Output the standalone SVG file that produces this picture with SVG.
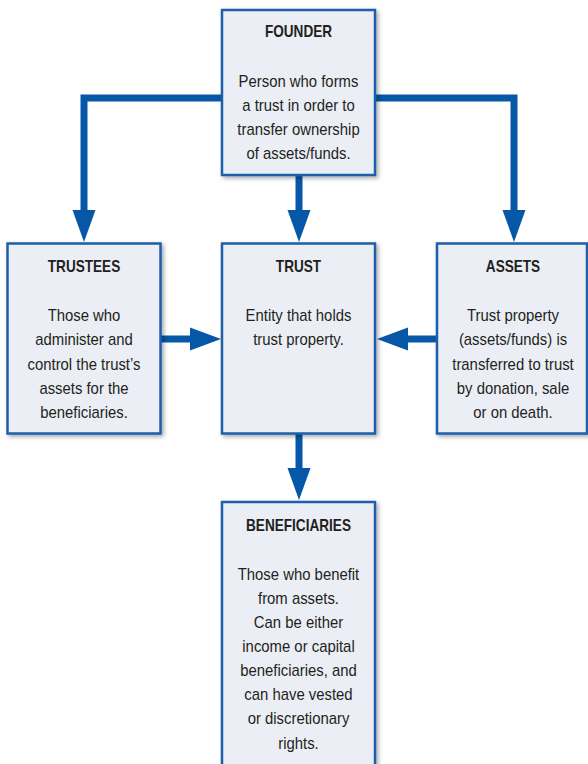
<svg xmlns="http://www.w3.org/2000/svg" width="588" height="764" viewBox="0 0 588 764">
  <defs>
    <filter id="shadow" x="-10%" y="-10%" width="125%" height="125%">
      <feDropShadow dx="2" dy="2" stdDeviation="2" flood-color="#000" flood-opacity="0.35"/>
    </filter>
    <style>
      .box { fill: #ebeef5; stroke: #1c5fab; stroke-width: 2.5; filter: url(#shadow); }
      .title { font-family: "Liberation Sans", Arial, sans-serif; font-weight: bold; font-size: 16px; fill: #231f20; text-anchor: middle; }
      .body { font-family: "Liberation Sans", Arial, sans-serif; font-size: 16px; fill: #231f20; text-anchor: middle; }
      .stem { fill: none; stroke: #0657a8; stroke-width: 7; }
      .head { fill: #0657a8; }
    </style>
  </defs>
  <rect width="588" height="764" fill="#ffffff"/>

  <g id="connectors">
    <polyline class="stem" points="222,98 84,98 84,212"/>
    <polygon class="head" points="72.5,210 95.5,210 84,242"/>
    <polyline class="stem" points="375,98 514,98 514,212"/>
    <polygon class="head" points="502.5,210 525.5,210 514,242"/>
    <line class="stem" x1="299" y1="175" x2="299" y2="212"/>
    <polygon class="head" points="287.5,210 310.5,210 299,242"/>
    <line class="stem" x1="160" y1="339" x2="192" y2="339"/>
    <polygon class="head" points="190,327.5 190,350.5 221,339"/>
    <line class="stem" x1="437" y1="339" x2="406" y2="339"/>
    <polygon class="head" points="408,327.5 408,350.5 377,339"/>
    <line class="stem" x1="299" y1="433" x2="299" y2="470"/>
    <polygon class="head" points="287.5,468 310.5,468 299,500"/>
  </g>

  <g id="founder">
    <rect class="box" x="222" y="10" width="153" height="165"/>
    <text class="title" transform="matrix(0.85 0 0 1 298.5 37)">FOUNDER</text>
    <text class="body" transform="matrix(0.93 0 0 1 298.5 87)">Person who forms</text>
    <text class="body" transform="matrix(0.93 0 0 1 298.5 111)">a trust in order to</text>
    <text class="body" transform="matrix(0.93 0 0 1 298.5 135)">transfer ownership</text>
    <text class="body" transform="matrix(0.93 0 0 1 298.5 159)">of assets/funds.</text>
  </g>

  <g id="trustees">
    <rect class="box" x="7.5" y="243.5" width="153" height="190"/>
    <text class="title" transform="matrix(0.85 0 0 1 84 272)">TRUSTEES</text>
    <text class="body" transform="matrix(0.93 0 0 1 84 321)">Those who</text>
    <text class="body" transform="matrix(0.93 0 0 1 84 345)">administer and</text>
    <text class="body" transform="matrix(0.93 0 0 1 84 370)">control the trust’s</text>
    <text class="body" transform="matrix(0.93 0 0 1 84 394)">assets for the</text>
    <text class="body" transform="matrix(0.93 0 0 1 84 418)">beneficiaries.</text>
  </g>

  <g id="trust">
    <rect class="box" x="222" y="243.5" width="153" height="190"/>
    <text class="title" transform="matrix(0.85 0 0 1 298.5 272)">TRUST</text>
    <text class="body" transform="matrix(0.93 0 0 1 298.5 321)">Entity that holds</text>
    <text class="body" transform="matrix(0.93 0 0 1 298.5 345)">trust property.</text>
  </g>

  <g id="assets">
    <rect class="box" x="437" y="243.5" width="150" height="190"/>
    <text class="title" transform="matrix(0.85 0 0 1 513 272)">ASSETS</text>
    <text class="body" transform="matrix(0.93 0 0 1 513 321)">Trust property</text>
    <text class="body" transform="matrix(0.93 0 0 1 513 345)">(assets/funds) is</text>
    <text class="body" transform="matrix(0.93 0 0 1 513 370)">transferred to trust</text>
    <text class="body" transform="matrix(0.93 0 0 1 513 394)">by donation, sale</text>
    <text class="body" transform="matrix(0.93 0 0 1 513 418)">or on death.</text>
  </g>

  <g id="beneficiaries">
    <rect class="box" x="222" y="502" width="153" height="275"/>
    <text class="title" transform="matrix(0.85 0 0 1 298.5 531)">BENEFICIARIES</text>
    <text class="body" transform="matrix(0.93 0 0 1 298.5 580)">Those who benefit</text>
    <text class="body" transform="matrix(0.93 0 0 1 298.5 604)">from assets.</text>
    <text class="body" transform="matrix(0.93 0 0 1 298.5 628)">Can be either</text>
    <text class="body" transform="matrix(0.93 0 0 1 298.5 652)">income or capital</text>
    <text class="body" transform="matrix(0.93 0 0 1 298.5 676)">beneficiaries, and</text>
    <text class="body" transform="matrix(0.93 0 0 1 298.5 700)">can have vested</text>
    <text class="body" transform="matrix(0.93 0 0 1 298.5 724)">or discretionary</text>
    <text class="body" transform="matrix(0.93 0 0 1 298.5 749)">rights.</text>
  </g>
</svg>
